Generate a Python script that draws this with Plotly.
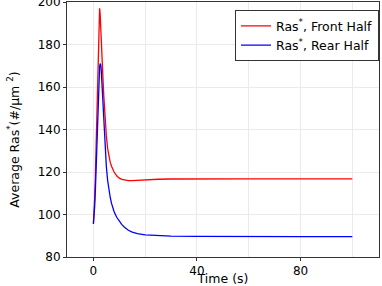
import plotly.graph_objects as go

time = [0, 0.25, 0.5, 0.75, 1, 1.25, 1.5, 1.75, 2, 2.2, 2.4, 2.6, 2.8, 3, 3.25, 3.5, 3.75, 4, 4.5, 5, 5.5, 6, 6.5, 7, 7.5, 8, 9, 10, 11, 12, 13.5, 15, 17, 20, 25, 30, 40, 50, 60, 80, 100]
front = [96, 101, 108, 118, 131, 146, 162, 178, 191, 196.5, 197, 194.5, 190, 185, 177.5, 170, 162.5, 156, 145, 137, 131, 127, 124.5, 122.7, 121.2, 120, 118.2, 117.1, 116.5, 116.2, 115.9, 115.95, 116.1, 116.4, 116.6, 116.7, 116.8, 116.8, 116.8, 116.8, 116.8]
rear = [95.5, 99, 104, 111, 120, 130, 141, 152, 161, 166, 169.5, 171, 170.5, 168.5, 163, 156.5, 149.5, 143, 131.5, 122.5, 116, 111.5, 108, 105.2, 103, 101.3, 98.7, 96.8, 95.2, 94, 92.6, 91.7, 91, 90.4, 90, 89.8, 89.7, 89.6, 89.6, 89.6, 89.6]

fig = go.Figure()
fig.add_trace(go.Scatter(x=time, y=front, mode="lines", line=dict(color="#ff0000", width=1.3),
                         name="Ras<sup>*</sup>, Front Half"))
fig.add_trace(go.Scatter(x=time, y=rear, mode="lines", line=dict(color="#0000ff", width=1.3),
                         name="Ras<sup>*</sup>, Rear Half"))

font = "DejaVu Sans"
fig.update_layout(
    width=382, height=286,
    margin=dict(l=67, r=3, t=2, b=29, autoexpand=False),
    paper_bgcolor="white", plot_bgcolor="white",
    font=dict(family=font, size=12, color="#000000"),
    showlegend=True,
    legend=dict(x=1.0, y=0.968, xanchor="right", yanchor="top", bgcolor="white",
                bordercolor="#333333", borderwidth=1, font=dict(size=12.5),
                tracegroupgap=0, itemwidth=30),
    xaxis=dict(range=[-10.2, 110.3], tick0=0, dtick=40, showgrid=True, gridcolor="#ebebeb",
               minor=dict(dtick=20, showgrid=True, gridcolor="#ebebeb"),
               showline=True, linecolor="#333333", linewidth=1, mirror=True,
               ticks="outside", ticklen=3, tickcolor="#333333", zeroline=False,
               ticklabeloverflow="allow",
               title=dict(text="Time (s)", standoff=2, font=dict(size=12.5))),
    yaxis=dict(range=[80, 200], dtick=20, showgrid=True, gridcolor="#ebebeb",
               showline=True, linecolor="#333333", linewidth=1, mirror=True,
               ticks="outside", ticklen=3, tickcolor="#333333", zeroline=False,
               ticklabeloverflow="allow"),
    annotations=[dict(text="Average Ras<sup>*</sup>(#/μm <sup>2</sup>)", textangle=-90,
                      xref="paper", yref="paper", x=-54 / 312, y=0.46,
                      xanchor="center", yanchor="middle", showarrow=False,
                      font=dict(size=12.5))],
)

fig.write_html("out.html", config={"displayModeBar": False},
               post_script="document.body.style.margin='0';document.body.style.padding='0';")
